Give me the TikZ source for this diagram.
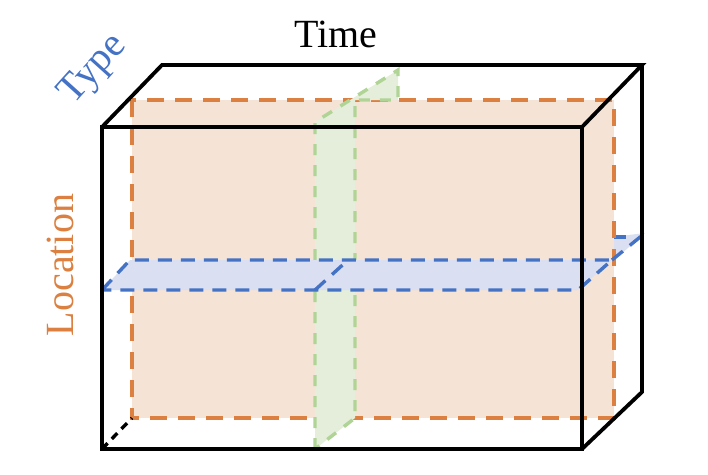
\documentclass[tikz,border=0pt]{standalone}
\usepackage{fontspec}
\setmainfont{Liberation Serif}
\begin{document}
\begin{tikzpicture}[x=1pt,y=-1pt,
  cube/.style={line width=3.8pt,black,line join=miter},
  oplane/.style={draw=orng,fill=orngfill,line width=3.4pt,dash pattern=on 17pt off 11pt},
  gplane/.style={draw=grn,fill=grnfill,line width=3.4pt,dash pattern=on 11pt off 10pt},
  bplane/.style={draw=blu,fill=blufill,line width=3.4pt,dash pattern=on 14pt off 9pt,line join=round},
  bline/.style={blu,line width=3.4pt,dash pattern=on 14pt off 9pt},
  lbl/.style={font=\fontsize{40}{40}\selectfont}]
\definecolor{orng}{HTML}{DB8040}
\definecolor{orngfill}{HTML}{F5E3D6}
\definecolor{grn}{HTML}{B0D495}
\definecolor{grnfill}{HTML}{E4EEDA}
\definecolor{blu}{HTML}{4472C4}
\definecolor{blufill}{HTML}{DAE0F2}
\useasboundingbox (0,0) rectangle (708,474);
% blue piece behind orange plane
\fill[blufill] (612,262) -- (645,233) -- (612,237) -- cycle;
\draw[bline] (612,237) -- (632,237);
% orange plane
\draw[oplane] (132,100) rectangle (614,418);
% green plane
\draw[gplane] (315,449) -- (315,122) -- (398,70) -- (398,100) -- (355,100) -- (355,418) -- cycle;
% blue plane
\draw[bplane] (102,290) -- (130,260) -- (612,260) -- (578,290) -- cycle;
\draw[bline] (612,260) -- (645,233);
\draw[bline] (315,290) -- (348,260);
% cube
\coordinate (A) at (102,127); \coordinate (B) at (582,127);
\coordinate (C) at (582,449); \coordinate (D) at (102,449);
\coordinate (E) at (162,65); \coordinate (F) at (642,65);
\coordinate (G) at (642,392); \coordinate (H) at (132,418);
\draw[cube] (A) -- (B) -- (C) -- (D) -- cycle;
\draw[cube] (A) -- (E) -- (F) -- (B);
\draw[cube] (F) -- (G) -- (C);
\draw[line width=3.4pt,dash pattern=on 8pt off 6pt] (D) -- (H);
% labels
\node[lbl] (time) at (336,34) {Time};
\node[lbl,blu,rotate=48,inner sep=0pt] (type) at (94,70) {Type};
\node[lbl,orng,rotate=90] (loc) at (60,265) {Location};
\end{tikzpicture}
\end{document}
